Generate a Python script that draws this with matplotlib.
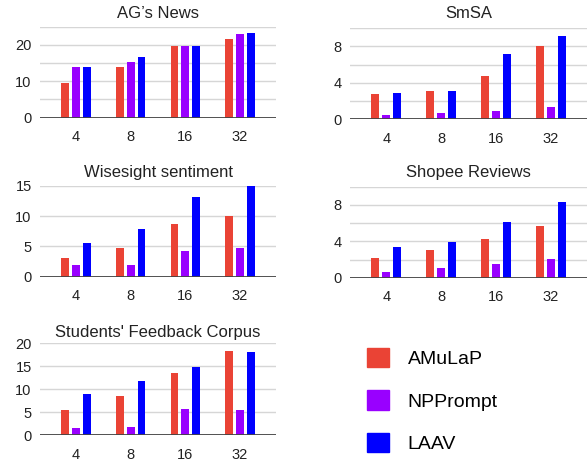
import matplotlib.pyplot as plt
import matplotlib.patches as mpatches
from matplotlib.ticker import MultipleLocator
import numpy as np

plt.rcParams['font.family'] = ['Liberation Sans', 'DejaVu Sans']

shots = ['4', '8', '16', '32']
methods = ['AMuLaP', 'NPPrompt', 'LAAV']
colors = ['#ea4335', '#9900ff', '#0000ff']

ag_amulap = [9.6, 13.9, 19.7, 21.7]
ag_npprompt = [13.9, 15.4, 19.7, 22.9]
ag_laav = [13.9, 16.6, 19.7, 23.2]

smsa_amulap = [2.75, 3.1, 4.75, 8.0]
smsa_npprompt = [0.45, 0.63, 0.9, 1.36]
smsa_laav = [2.9, 3.1, 7.15, 9.1]

wise_amulap = [3.1, 4.7, 8.7, 10.05]
wise_npprompt = [2.0, 2.0, 4.3, 4.7]
wise_laav = [5.6, 7.8, 13.1, 15.1]

shopee_amulap = [2.2, 3.05, 4.23, 5.73]
shopee_npprompt = [0.66, 1.03, 1.47, 2.03]
shopee_laav = [3.4, 3.93, 6.1, 8.27]

students_amulap = [5.45, 8.4, 13.6, 18.4]
students_npprompt = [1.45, 1.7, 5.7, 5.45]
students_laav = [8.95, 11.8, 14.8, 18.0]

W, H = 587, 461
fig = plt.figure(figsize=(W / 100, H / 100), dpi=100)


def box(l, t, r, b):
    return [l / W, 1 - b / H, (r - l) / W, (b - t) / H]


# title, series, ymax, major step, minor step, axes box (px), title y (px)
panels = [
    ("AG’s News", [ag_amulap, ag_npprompt, ag_laav], 25, 10, 5, (40, 26.7, 276, 117.7), 13),
    ("SmSA", [smsa_amulap, smsa_npprompt, smsa_laav], 10, 4, 2, (350, 28.3, 587, 119), 13),
    ("Wisesight sentiment", [wise_amulap, wise_npprompt, wise_laav], 15, 5, None, (40, 185.7, 276, 276.7), 172.5),
    ("Shopee Reviews", [shopee_amulap, shopee_npprompt, shopee_laav], 10, 4, 2, (350, 186.7, 587, 277.7), 172.5),
    ("Students' Feedback Corpus", [students_amulap, students_npprompt, students_laav], 20, 5, None, (40, 343.3, 276, 435), 332),
]

x = np.arange(len(shots))
for title, series, ymax, major, minor, rect, ty in panels:
    ax = fig.add_axes(box(*rect))
    for k, vals in enumerate(series):
        ax.bar(x + (k - 1) * 0.2, vals, 0.14, color=colors[k], zorder=3)
    ax.set_xlim(-0.66, 3.66)
    ax.set_ylim(0, ymax)
    ax.yaxis.set_major_locator(MultipleLocator(major))
    if minor:
        ax.yaxis.set_minor_locator(MultipleLocator(minor))
    ax.grid(axis='y', which='both', color='#d6d6d6', lw=1, zorder=0)
    for s in ax.spines.values():
        s.set_visible(False)
    ax.axhline(0, color='#444444', lw=1.3, zorder=4)
    ax.set_xticks(x, shots)
    ax.tick_params(which='both', length=0, labelsize=10.5, colors='#222222')
    ax.tick_params(axis='x', pad=9)
    ax.tick_params(axis='y', pad=6)
    cx = (rect[0] + rect[2]) / 2
    fig.text(cx / W, 1 - ty / H, title, ha='center', va='center', fontsize=12, color='#222222')

handles = [mpatches.Patch(color=c, label=m) for c, m in zip(colors, methods)]
fig.legend(handles=handles, loc='upper left', bbox_to_anchor=(366.7 / W, 1 - 348 / H),
           frameon=False, fontsize=14, handlelength=1.13, handleheight=1.13,
           handletextpad=0.98, labelspacing=1.15, borderpad=0, borderaxespad=0)

fig.savefig('out.png', dpi=100)
